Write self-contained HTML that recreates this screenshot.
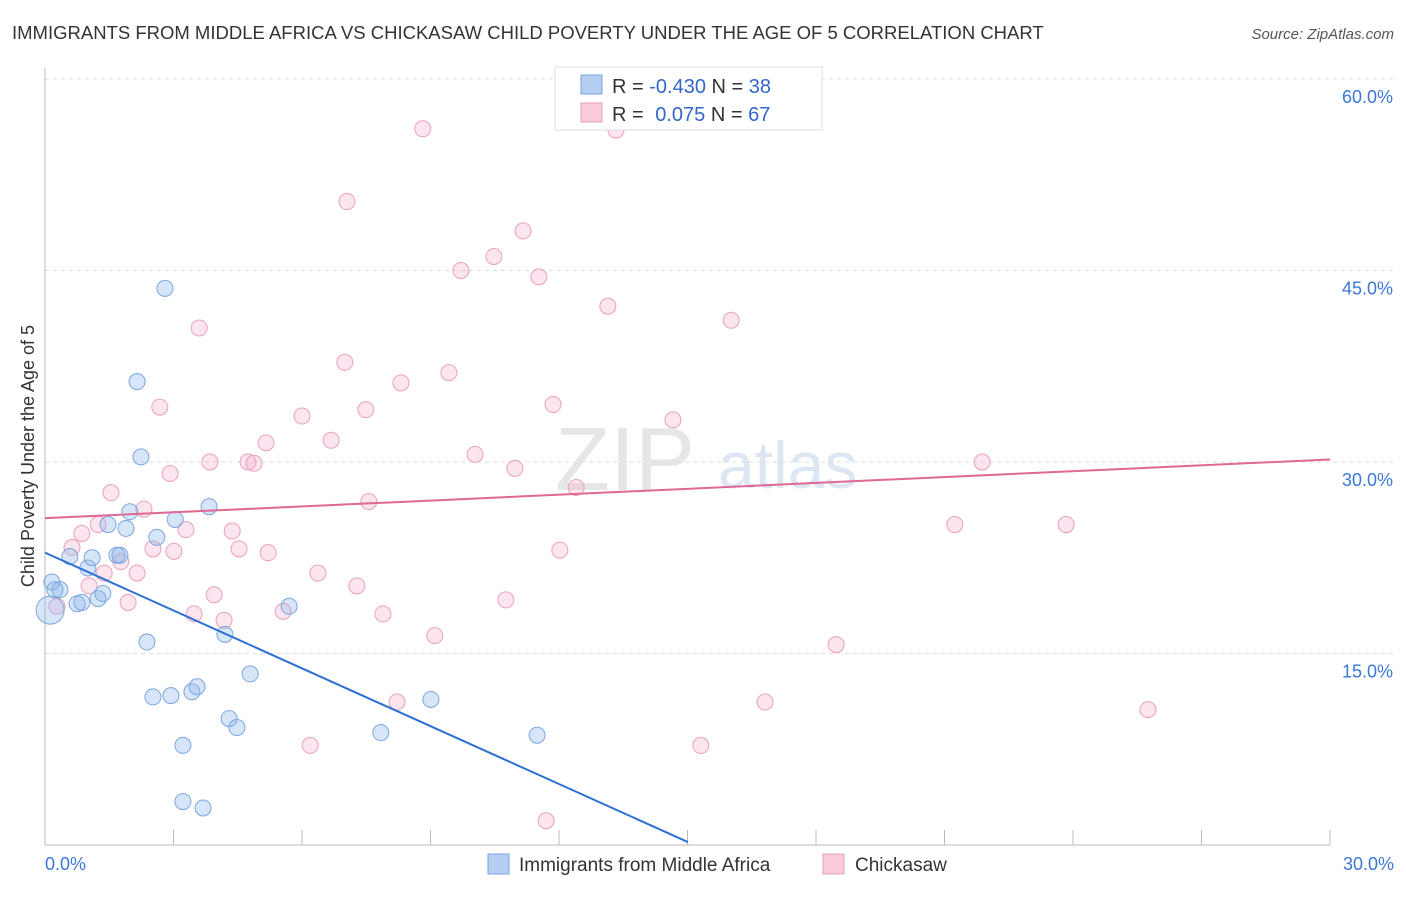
<!DOCTYPE html>
<html><head><meta charset="utf-8">
<style>
body{margin:0;background:#fff;font-family:"Liberation Sans",sans-serif;}
svg text{font-family:"Liberation Sans",sans-serif;}
</style></head>
<body>
<svg id="c" width="1406" height="892" xmlns="http://www.w3.org/2000/svg">
<text x="12" y="39" font-size="18.5" fill="#333">IMMIGRANTS FROM MIDDLE AFRICA VS CHICKASAW CHILD POVERTY UNDER THE AGE OF 5 CORRELATION CHART</text>
<text x="1394" y="39" font-size="15" fill="#555" font-style="italic" text-anchor="end">Source: ZipAtlas.com</text>
<text x="34" y="456" font-size="18" fill="#333" text-anchor="middle" transform="rotate(-90 34 456)">Child Poverty Under the Age of 5</text>
<text x="555" y="490" font-size="90" fill="#e6e6e6" font-family="Liberation Serif">ZIP</text>
<text x="718" y="488" font-size="66" fill="#dde6f3">atlas</text>
<g id="grid"></g>
<g id="pts"></g>
<g id="trend"></g>
<g>
<rect x="555" y="67" width="267" height="63" fill="#fff" stroke="#ddd"/>
<rect x="581" y="75" width="21" height="19" fill="#b5cef2" stroke="#7aa6e0"/>
<rect x="581" y="103" width="21" height="19" fill="#f9cbdb" stroke="#eaa0bc"/>
<text x="612" y="93" font-size="20" fill="#333">R = <tspan fill="#3366cc">-0.430</tspan>   N = <tspan fill="#3366cc">38</tspan></text>
<text x="612" y="121" font-size="20" fill="#333">R =  <tspan fill="#3366cc" dx="6">0.075</tspan>   N = <tspan fill="#3366cc">67</tspan></text>
</g>
<g>
<rect x="488" y="854" width="21" height="20" fill="#b5cef2" stroke="#7aa6e0"/>
<text x="519" y="871" font-size="19" fill="#333">Immigrants from Middle Africa</text>
<rect x="823" y="854" width="21" height="20" fill="#f9cbdb" stroke="#eaa0bc"/>
<text x="855" y="871" font-size="19" fill="#333">Chickasaw</text>
</g>
</svg>
<script>
const yTicks=[15,30,45,60];
const yTickLabels=["15.0%","30.0%","45.0%","60.0%"];
const blueX=[0.16,0.12,0.35,0.58,0.75,0.86,1.00,1.10,1.24,1.35,1.47,1.68,1.75,1.89,1.98,2.15,2.24,2.38,2.52,2.61,2.80,2.94,3.04,3.22,3.22,3.43,3.55,3.69,3.83,4.20,4.30,4.48,4.79,5.70,7.84,9.01,11.49,0.23];
const blueY=[20.6,18.4,20.0,22.6,18.9,19.0,21.7,22.5,19.3,19.7,25.1,22.7,22.7,24.8,26.1,36.3,30.4,15.9,11.6,24.1,43.6,11.7,25.5,7.8,3.4,12.0,12.4,2.9,26.5,16.5,9.9,9.2,13.4,18.7,8.8,11.4,8.6,20.0];
const pinkX=[8.82,13.33,7.05,11.16,9.71,10.48,11.53,13.14,16.02,3.60,7.00,8.31,9.43,2.68,7.49,6.00,11.86,14.66,5.16,6.68,10.04,3.85,4.74,4.88,10.97,21.88,2.92,1.54,7.56,12.40,2.31,1.24,0.86,3.29,4.37,21.24,23.84,0.63,2.52,3.01,4.53,5.21,12.02,1.77,1.38,2.15,6.37,1.03,3.95,7.28,10.76,1.94,0.28,3.48,4.18,5.56,7.89,9.10,18.47,8.22,16.81,25.75,6.19,15.31,11.70];
const pinkY=[56.1,56.0,50.4,48.1,45.0,46.1,44.5,42.2,41.1,40.5,37.8,36.2,37.0,34.3,34.1,33.6,34.5,33.3,31.5,31.7,30.6,30.0,30.0,29.9,29.5,30.0,29.1,27.6,26.9,28.0,26.3,25.1,24.4,24.7,24.6,25.1,25.1,23.3,23.2,23.0,23.2,22.9,23.1,22.2,21.3,21.3,21.3,20.3,19.6,20.3,19.2,19.0,18.7,18.1,17.6,18.3,18.1,16.4,15.7,11.2,11.2,10.6,7.8,7.8,1.9];
const blueTrend=[[0,22.9],[15.01,0.23]];
const pinkTrend=[[0,25.6],[30,30.2]];
const NS="http://www.w3.org/2000/svg";
const X=v=>45+v/30*1285, Y=v=>845-v/15*191.5;
function mk(t,a,p){const e=document.createElementNS(NS,t);for(const k in a)e.setAttribute(k,a[k]);p.appendChild(e);return e;}
const g=document.getElementById('grid');
yTicks.forEach((t,i)=>{
 const l=mk('line',{x1:45,x2:1394,y1:Y(t),y2:Y(t),stroke:'#ddd','stroke-dasharray':'4,4'},g);
 
 
 const tx=mk('text',{x:1393,y:Y(t)+24,'font-size':18,fill:'#3b78d8','text-anchor':'end'},g);
 tx.textContent=yTickLabels[i];
 
 
});
const ax=mk('line',{x1:45,x2:45,y1:68,y2:845,stroke:'#bbb'},g);


const bx=mk('line',{x1:45,x2:1330,y1:845,y2:845,stroke:'#bbb'},g);


for(let i=0;i<=10;i++){const t=mk('line',{x1:X(i*3),x2:X(i*3),y1:830,y2:845,stroke:'#bbb'},g);
 
 }
[[0,"0.0%","start",45],[30,"30.0%","end",1394]].forEach(a=>{const t=mk('text',{x:a[3],y:870,'font-size':18,fill:'#3b78d8','text-anchor':a[2]},g);t.textContent=a[1];
 
 });
const p=document.getElementById('pts');
pinkX.forEach((x,i)=>{const c=mk('circle',{cx:X(x),cy:Y(pinkY[i]),r:8,fill:'rgba(244,170,198,0.3)',stroke:'#eaa0bc','stroke-width':1},p);
 
 });
blueX.forEach((x,i)=>{const c=mk('circle',{cx:X(x),cy:Y(blueY[i]),r:i==1?14:8,fill:'rgba(140,180,235,0.35)',stroke:'#7aa6e0','stroke-width':1},p);
 
 });
const tg=document.getElementById('trend');
const bl=mk('line',{x1:X(blueTrend[0][0]),y1:Y(blueTrend[0][1]),x2:X(blueTrend[1][0]),y2:Y(blueTrend[1][1]),stroke:'#2f6fd6','stroke-width':2},tg);


const pl=mk('line',{x1:X(pinkTrend[0][0]),y1:Y(pinkTrend[0][1]),x2:X(pinkTrend[1][0]),y2:Y(pinkTrend[1][1]),stroke:'#e06894','stroke-width':2},tg);


</script>
</body></html>
